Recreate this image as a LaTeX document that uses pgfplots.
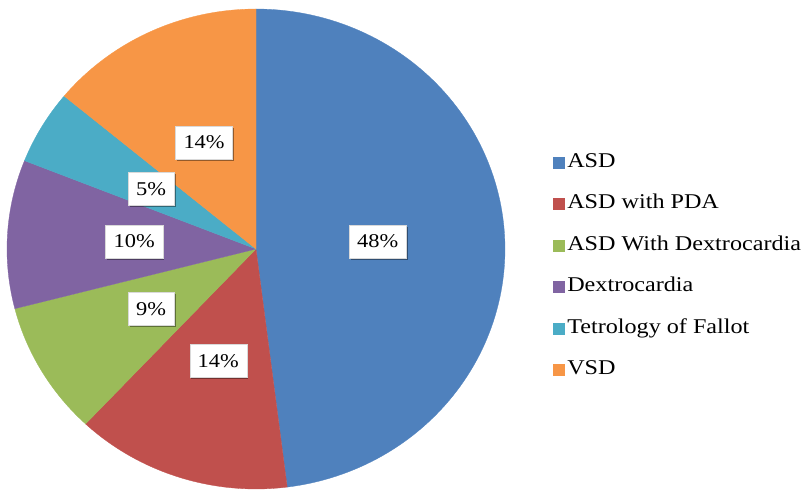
\documentclass[border=0pt]{standalone}
\usepackage{pgfplots}
\pgfplotsset{compat=1.18}
\usepackage{fontspec}
\setmainfont{Liberation Serif}[FakeStretch=1.15]
\usetikzlibrary{shadows}
\definecolor{cASD}{HTML}{4F81BD}
\definecolor{cPDA}{HTML}{C0504D}
\definecolor{cDex}{HTML}{9BBB59}
\definecolor{cDx}{HTML}{8064A2}
\definecolor{cTOF}{HTML}{4BACC6}
\definecolor{cVSD}{HTML}{F79646}
\tikzset{lbl/.style={fill=white, draw=gray!30, line width=0.4bp, inner xsep=8bp,
    minimum height=33bp, font=\fontsize{19.5bp}{22bp}\selectfont,
    drop shadow={shadow xshift=1.6bp, shadow yshift=-1.6bp, fill=black, opacity=0.4}}}
\begin{document}
\begin{tikzpicture}
\path (0,0) rectangle (812bp,494bp);
\begin{axis}[
  at={(256bp,245bp)}, anchor=center,
  x=249bp, y=240bp, xmin=-1, xmax=1, ymin=-1, ymax=1,
  hide axis, clip=false,
  legend image code/.code={\fill[#1] (0bp,-5.5bp) rectangle (11bp,5.5bp);},
  legend cell align=left,
  legend style={draw=none, fill=none, at={(1.096,0.464)}, anchor=west,
    inner sep=0pt, row sep=22.5bp,
    font=\fontsize{21bp}{24bp}\selectfont,
    nodes={text height=14bp, text depth=5bp, inner xsep=3bp, inner ysep=0bp}},
]
% percentages: ASD 48, ASD with PDA 14, ASD With Dextrocardia 9, Dextrocardia 10, ToF 5, VSD 14
\addplot[fill=cASD, draw=cASD, line width=0.3bp, domain={90-3.6*48}:{90}, samples=120] ({cos(x)},{sin(x)}) -- (0,0) -- cycle;
\addlegendentry{ASD}
\addplot[fill=cPDA, draw=cPDA, line width=0.3bp, domain={90-3.6*62}:{90-3.6*48}, samples=40] ({cos(x)},{sin(x)}) -- (0,0) -- cycle;
\addlegendentry{ASD with PDA}
\addplot[fill=cDex, draw=cDex, line width=0.3bp, domain={90-3.6*71}:{90-3.6*62}, samples=30] ({cos(x)},{sin(x)}) -- (0,0) -- cycle;
\addlegendentry{ASD With Dextrocardia}
\addplot[fill=cDx, draw=cDx, line width=0.3bp, domain={90-3.6*81}:{90-3.6*71}, samples=30] ({cos(x)},{sin(x)}) -- (0,0) -- cycle;
\addlegendentry{Dextrocardia}
\addplot[fill=cTOF, draw=cTOF, line width=0.3bp, domain={90-3.6*86}:{90-3.6*81}, samples=20] ({cos(x)},{sin(x)}) -- (0,0) -- cycle;
\addlegendentry{Tetrology of Fallot}
\addplot[fill=cVSD, draw=cVSD, line width=0.3bp, domain={90-3.6*100}:{90-3.6*86}, samples=40] ({cos(x)},{sin(x)}) -- (0,0) -- cycle;
\addlegendentry{VSD}
\node[lbl] at ({0.49*cos(3.6)},{0.49*sin(3.6)}) {48\%};
\node[lbl] at ({0.49*cos(-108)},{0.49*sin(-108)}) {14\%};
\node[lbl] at ({0.49*cos(-149.4)},{0.49*sin(-149.4)}) {9\%};
\node[lbl] at ({0.49*cos(-183.6)},{0.49*sin(-183.6)}) {10\%};
\node[lbl] at ({0.49*cos(-210.6)},{0.49*sin(-210.6)}) {5\%};
\node[lbl] at ({0.49*cos(-244.8)},{0.49*sin(-244.8)}) {14\%};
\end{axis}
\end{tikzpicture}
\end{document}
